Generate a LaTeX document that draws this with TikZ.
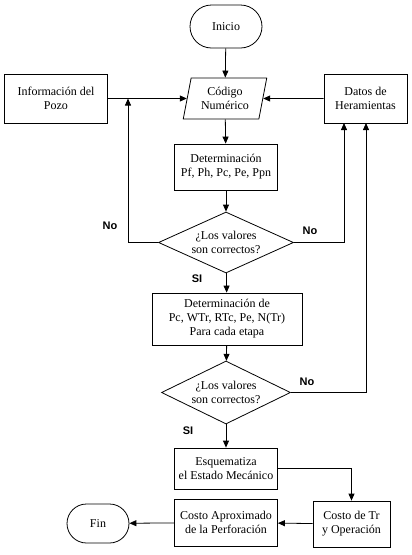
\documentclass[tikz,border=0pt]{standalone}
\usepackage{fontspec}
\setmainfont{Liberation Serif}
\newfontfamily\labelfont{Liberation Sans}
\usetikzlibrary{shapes.geometric,shapes.misc,arrows.meta}

\tikzset{
	every node/.style={font=\fontsize{12}{14}\selectfont, align=center, inner sep=0pt},
	proceso/.style={draw, rectangle, line width=0.8pt},
	terminal/.style={draw, rounded rectangle, line width=0.8pt},
	entrada/.style={draw, trapezium, trapezium left angle=76, trapezium right angle=104,
		trapezium stretches=true, line width=0.8pt},
	decision/.style={draw, diamond, aspect=2.2, line width=0.8pt},
	resp/.style={font=\labelfont\bfseries\fontsize{11}{13}\selectfont},
	flecha/.style={line width=0.8pt, -{Triangle[length=7pt,width=6pt]}},
}

\begin{document}
\begin{tikzpicture}[x=1pt,y=-1pt]
		\useasboundingbox (0,0) rectangle (412,555);
		% bloques
		\node[terminal, minimum width=72, minimum height=43] (inicio) at (226,26.5) {Inicio};
		\node[entrada, minimum width=84, minimum height=41] (codigo) at (225,98.5) {Código\\Numérico};
		\node[proceso, minimum width=103, minimum height=49] (info) at (56,98.5) {Información del\\Pozo};
		\node[proceso, minimum width=83, minimum height=49] (datos) at (365.5,98.5) {Datos de\\Heramientas};
		\node[proceso, minimum width=103, minimum height=46] (det1) at (226,167) {Determinación\\Pf, Ph, Pc, Pe, Ppn};
		\node[decision, minimum width=135, minimum height=61] (dec1) at (226,242.5) {¿Los valores\\son correctos?};
		\node[proceso, minimum width=150, minimum height=52] (det2) at (227,319) {Determinación de\\Pc, WTr, RTc, Pe, N(Tr)\\Para cada etapa};
		\node[decision, minimum width=129, minimum height=63] (dec2) at (226,392.5) {¿Los valores\\son correctos?};
		\node[proceso, minimum width=103, minimum height=41] (esq) at (226,468.5) {Esquematiza\\el Estado Mecánico};
		\node[proceso, minimum width=77, minimum height=46] (costotr) at (351.5,524) {Costo de Tr\\y Operación};
		\node[proceso, minimum width=103, minimum height=47] (costoap) at (226,522.5) {Costo Aproximado\\de la Perforación};
		\node[terminal, minimum width=62, minimum height=39] (fin) at (98,523.5) {Fin};

		% respuestas
		\node[resp] (no1) at (110,226) {No};
		\node[resp] (no2) at (310,231) {No};
		\node[resp] (si1) at (197,279) {SI};
		\node[resp] (no3) at (307,382) {No};
		\node[resp] (si2) at (188,431) {SI};

		% puntos de retorno
		\coordinate (retizq) at (128,98.5);
		\coordinate (retder1) at (344,123);
		\coordinate (retder2) at (366,123);

		% conectores
		\draw[flecha] (inicio) -- (codigo);
		\draw[flecha] (info) -- (codigo);
		\draw[flecha] (datos) -- (codigo);
		\draw[flecha] (codigo) -- (det1);
		\draw[flecha] (det1) -- (dec1);
		\draw[flecha] (dec1) -- (det2);
		\draw[flecha] (det2) -- (dec2);
		\draw[flecha] (dec2) -- (esq);
		\draw[flecha] (dec1.west) -| (retizq);
		\draw[flecha] (dec1.east) -| (retder1);
		\draw[flecha] (dec2.east) -| (retder2);
		\draw[flecha] (esq.east) -| (costotr.north);
		\draw[flecha] (costotr) -- (costoap);
		\draw[flecha] (costoap) -- (fin);
\end{tikzpicture}
\end{document}
